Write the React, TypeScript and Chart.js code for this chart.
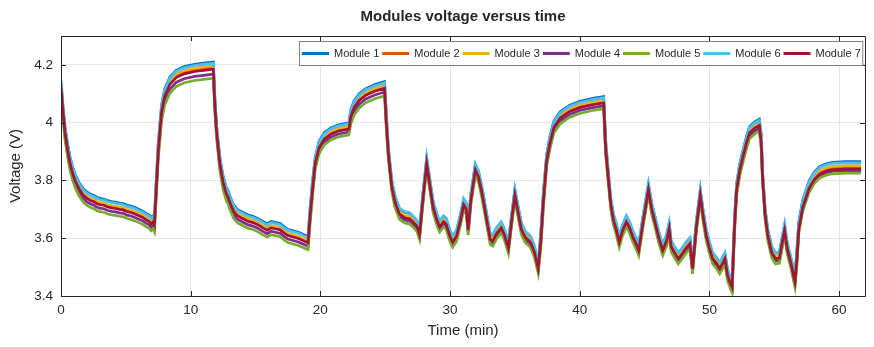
import { useEffect, useRef } from "react";
import { Chart, registerables } from "chart.js";

Chart.register(...registerables);

// Sample times in minutes, shared by every module trace
const TIME_MIN = [
  0, 0.15, 0.3, 0.5, 0.7, 0.9, 1.1, 1.4, 1.7, 2.0,
  2.3, 2.55, 2.75, 3.0, 3.3, 3.6, 3.9, 4.2, 4.5, 4.8,
  5.1, 5.4, 5.7, 6.0, 6.3, 6.55, 6.8, 6.95, 7.1, 7.2,
  7.3, 7.5, 7.75, 8.0, 8.4, 8.9, 9.5, 10.3, 11.0, 11.75,
  11.85, 12.0, 12.25, 12.5, 12.75, 12.9, 13.0, 13.3, 13.6, 14.0,
  14.4, 14.8, 15.2, 15.6, 15.9, 16.2, 16.6, 16.9, 17.2, 17.5,
  17.9, 18.3, 18.7, 19.05, 19.2, 19.4, 19.6, 19.9, 20.3, 20.8,
  21.4, 22.0, 22.2, 22.35, 22.6, 23.0, 23.5, 24.2, 24.95, 25.1,
  25.25, 25.5, 25.75, 26.1, 26.5, 26.9, 27.2, 27.45, 27.65, 27.9,
  28.2, 28.45, 28.7, 29.0, 29.2, 29.5, 29.7, 30.0, 30.2, 30.5,
  30.8, 31.05, 31.25, 31.4, 31.6, 31.95, 32.2, 32.5, 32.8, 33.1,
  33.3, 33.6, 33.95, 34.2, 34.5, 34.75, 35.0, 35.2, 35.5, 35.8,
  36.2, 36.5, 36.8, 37.0, 37.2, 37.45, 37.7, 38.0, 38.5, 39.2,
  40.0, 41.0, 41.85, 42.0, 42.2, 42.4, 42.6, 42.8, 43.05, 43.3,
  43.6, 43.85, 44.1, 44.35, 44.55, 44.9, 45.3, 45.55, 45.8, 46.1,
  46.4, 46.7, 46.9, 47.05, 47.3, 47.6, 47.9, 48.2, 48.5, 48.7,
  49.0, 49.3, 49.5, 49.75, 50.0, 50.25, 50.5, 50.8, 51.0, 51.2,
  51.4, 51.6, 51.75, 51.95, 52.1, 52.35, 52.6, 52.85, 53.1, 53.5,
  53.85, 54.0, 54.1, 54.3, 54.5, 54.8, 55.1, 55.4, 55.6, 55.8,
  56.0, 56.3, 56.6, 56.75, 56.9, 57.2, 57.7, 58.1, 58.5, 59.0,
  59.5, 60.5, 61.7,
];

// Module voltages (V) at each sample time
const MODULE_1 = [
  4.145, 4.060, 3.990, 3.930, 3.880, 3.846, 3.820, 3.792, 3.772, 3.760,
  3.752, 3.748, 3.742, 3.738, 3.736, 3.730, 3.727, 3.725, 3.722, 3.720,
  3.714, 3.711, 3.706, 3.700, 3.694, 3.686, 3.680, 3.672, 3.678, 3.668,
  3.760, 3.930, 4.060, 4.118, 4.158, 4.182, 4.194, 4.202, 4.206, 4.210,
  4.100, 3.990, 3.880, 3.815, 3.775, 3.764, 3.748, 3.716, 3.700, 3.690,
  3.681, 3.676, 3.668, 3.657, 3.650, 3.658, 3.654, 3.651, 3.640, 3.631,
  3.626, 3.621, 3.613, 3.606, 3.700, 3.800, 3.880, 3.935, 3.965, 3.982,
  3.993, 3.998, 4.000, 4.045, 4.075, 4.100, 4.118, 4.132, 4.142, 4.020,
  3.910, 3.800, 3.745, 3.702, 3.690, 3.686, 3.673, 3.660, 3.632, 3.750,
  3.877, 3.800, 3.725, 3.680, 3.658, 3.676, 3.668, 3.625, 3.606, 3.626,
  3.680, 3.735, 3.720, 3.648, 3.750, 3.855, 3.830, 3.767, 3.690, 3.615,
  3.610, 3.636, 3.655, 3.630, 3.585, 3.680, 3.768, 3.720, 3.650, 3.622,
  3.606, 3.572, 3.515, 3.620, 3.760, 3.890, 3.950, 4.005, 4.038, 4.060,
  4.074, 4.084, 4.090, 3.940, 3.830, 3.735, 3.682, 3.652, 3.606, 3.645,
  3.676, 3.655, 3.623, 3.600, 3.577, 3.680, 3.787, 3.720, 3.675, 3.620,
  3.577, 3.610, 3.652, 3.590, 3.570, 3.548, 3.565, 3.585, 3.600, 3.514,
  3.660, 3.767, 3.700, 3.630, 3.585, 3.548, 3.535, 3.514, 3.530, 3.548,
  3.490, 3.465, 3.450, 3.680, 3.790, 3.860, 3.906, 3.950, 3.987, 4.003,
  4.012, 3.960, 3.830, 3.700, 3.630, 3.570, 3.548, 3.550, 3.600, 3.646,
  3.583, 3.530, 3.468, 3.560, 3.660, 3.733, 3.800, 3.830, 3.848, 3.858,
  3.863, 3.865, 3.865,
];

const MODULE_2 = [
  4.128, 4.044, 3.972, 3.912, 3.862, 3.828, 3.802, 3.774, 3.754, 3.742,
  3.734, 3.730, 3.724, 3.720, 3.718, 3.712, 3.709, 3.707, 3.704, 3.702,
  3.696, 3.693, 3.688, 3.682, 3.676, 3.668, 3.662, 3.654, 3.660, 3.650,
  3.738, 3.908, 4.041, 4.099, 4.139, 4.163, 4.175, 4.183, 4.187, 4.191,
  4.078, 3.972, 3.862, 3.797, 3.757, 3.746, 3.730, 3.698, 3.682, 3.672,
  3.663, 3.658, 3.650, 3.639, 3.632, 3.640, 3.636, 3.633, 3.622, 3.613,
  3.608, 3.603, 3.595, 3.588, 3.678, 3.778, 3.863, 3.918, 3.948, 3.965,
  3.976, 3.981, 3.983, 4.027, 4.057, 4.082, 4.100, 4.114, 4.124, 3.998,
  3.895, 3.785, 3.730, 3.687, 3.675, 3.671, 3.658, 3.645, 3.617, 3.735,
  3.862, 3.785, 3.710, 3.665, 3.643, 3.661, 3.653, 3.610, 3.591, 3.611,
  3.665, 3.720, 3.705, 3.633, 3.735, 3.840, 3.815, 3.752, 3.675, 3.600,
  3.595, 3.621, 3.640, 3.615, 3.570, 3.665, 3.753, 3.705, 3.635, 3.607,
  3.591, 3.557, 3.500, 3.598, 3.738, 3.873, 3.933, 3.988, 4.021, 4.043,
  4.057, 4.067, 4.073, 3.918, 3.815, 3.720, 3.667, 3.637, 3.591, 3.630,
  3.661, 3.640, 3.608, 3.585, 3.562, 3.665, 3.772, 3.705, 3.660, 3.605,
  3.562, 3.595, 3.637, 3.575, 3.555, 3.533, 3.550, 3.570, 3.585, 3.499,
  3.645, 3.752, 3.685, 3.615, 3.570, 3.533, 3.520, 3.499, 3.515, 3.533,
  3.475, 3.450, 3.435, 3.658, 3.773, 3.843, 3.889, 3.933, 3.970, 3.986,
  3.995, 3.938, 3.815, 3.685, 3.615, 3.555, 3.533, 3.535, 3.585, 3.631,
  3.568, 3.515, 3.453, 3.538, 3.640, 3.713, 3.780, 3.810, 3.828, 3.838,
  3.843, 3.845, 3.845,
];

const MODULE_3 = [
  4.132, 4.048, 3.976, 3.916, 3.866, 3.832, 3.806, 3.778, 3.758, 3.746,
  3.738, 3.734, 3.728, 3.724, 3.722, 3.716, 3.713, 3.711, 3.708, 3.706,
  3.700, 3.697, 3.692, 3.686, 3.680, 3.672, 3.666, 3.658, 3.664, 3.654,
  3.744, 3.914, 4.047, 4.105, 4.145, 4.169, 4.181, 4.189, 4.193, 4.197,
  4.084, 3.976, 3.866, 3.801, 3.761, 3.750, 3.734, 3.702, 3.686, 3.676,
  3.667, 3.662, 3.654, 3.643, 3.636, 3.644, 3.640, 3.637, 3.626, 3.617,
  3.612, 3.607, 3.599, 3.592, 3.684, 3.784, 3.868, 3.923, 3.953, 3.970,
  3.981, 3.986, 3.988, 4.032, 4.062, 4.087, 4.105, 4.119, 4.129, 4.004,
  3.899, 3.789, 3.734, 3.691, 3.679, 3.675, 3.662, 3.649, 3.621, 3.739,
  3.866, 3.789, 3.714, 3.669, 3.647, 3.665, 3.657, 3.614, 3.595, 3.615,
  3.669, 3.724, 3.709, 3.637, 3.739, 3.844, 3.819, 3.756, 3.679, 3.604,
  3.599, 3.625, 3.644, 3.619, 3.574, 3.669, 3.757, 3.709, 3.639, 3.611,
  3.595, 3.561, 3.504, 3.604, 3.744, 3.878, 3.938, 3.993, 4.026, 4.048,
  4.062, 4.072, 4.078, 3.924, 3.819, 3.724, 3.671, 3.641, 3.595, 3.634,
  3.665, 3.644, 3.612, 3.589, 3.566, 3.669, 3.776, 3.709, 3.664, 3.609,
  3.566, 3.599, 3.641, 3.579, 3.559, 3.537, 3.554, 3.574, 3.589, 3.503,
  3.649, 3.756, 3.689, 3.619, 3.574, 3.537, 3.524, 3.503, 3.519, 3.537,
  3.479, 3.454, 3.439, 3.664, 3.778, 3.848, 3.894, 3.938, 3.975, 3.991,
  4.000, 3.944, 3.819, 3.689, 3.619, 3.559, 3.537, 3.539, 3.589, 3.635,
  3.572, 3.519, 3.457, 3.544, 3.646, 3.719, 3.786, 3.816, 3.834, 3.844,
  3.849, 3.851, 3.851,
];

const MODULE_4 = [
  4.115, 4.030, 3.956, 3.896, 3.846, 3.812, 3.786, 3.758, 3.738, 3.726,
  3.718, 3.714, 3.708, 3.704, 3.702, 3.696, 3.693, 3.691, 3.688, 3.686,
  3.680, 3.677, 3.672, 3.666, 3.660, 3.652, 3.646, 3.638, 3.644, 3.634,
  3.720, 3.890, 4.018, 4.076, 4.116, 4.140, 4.152, 4.160, 4.164, 4.168,
  4.060, 3.956, 3.846, 3.781, 3.741, 3.730, 3.714, 3.682, 3.666, 3.656,
  3.647, 3.642, 3.634, 3.623, 3.616, 3.624, 3.620, 3.617, 3.606, 3.597,
  3.592, 3.587, 3.579, 3.572, 3.660, 3.760, 3.848, 3.903, 3.933, 3.950,
  3.961, 3.966, 3.968, 4.009, 4.039, 4.064, 4.082, 4.096, 4.106, 3.980,
  3.883, 3.773, 3.718, 3.675, 3.663, 3.659, 3.646, 3.633, 3.605, 3.723,
  3.850, 3.773, 3.698, 3.653, 3.631, 3.649, 3.641, 3.598, 3.579, 3.599,
  3.653, 3.708, 3.693, 3.621, 3.723, 3.828, 3.803, 3.740, 3.663, 3.588,
  3.583, 3.609, 3.628, 3.603, 3.558, 3.653, 3.741, 3.693, 3.623, 3.595,
  3.579, 3.545, 3.488, 3.580, 3.720, 3.858, 3.918, 3.973, 4.006, 4.028,
  4.042, 4.052, 4.058, 3.900, 3.803, 3.708, 3.655, 3.625, 3.579, 3.618,
  3.649, 3.628, 3.596, 3.573, 3.550, 3.653, 3.760, 3.693, 3.648, 3.593,
  3.550, 3.583, 3.625, 3.563, 3.543, 3.521, 3.538, 3.558, 3.573, 3.487,
  3.633, 3.740, 3.673, 3.603, 3.558, 3.521, 3.508, 3.487, 3.503, 3.521,
  3.463, 3.438, 3.423, 3.640, 3.758, 3.828, 3.874, 3.918, 3.955, 3.971,
  3.980, 3.920, 3.803, 3.673, 3.603, 3.543, 3.521, 3.523, 3.573, 3.619,
  3.556, 3.503, 3.441, 3.520, 3.629, 3.702, 3.769, 3.799, 3.817, 3.827,
  3.832, 3.834, 3.834,
];

const MODULE_5 = [
  4.105, 4.020, 3.944, 3.884, 3.834, 3.800, 3.774, 3.746, 3.726, 3.714,
  3.706, 3.702, 3.696, 3.692, 3.690, 3.684, 3.681, 3.679, 3.676, 3.674,
  3.668, 3.665, 3.660, 3.654, 3.648, 3.640, 3.634, 3.626, 3.632, 3.622,
  3.706, 3.876, 4.004, 4.062, 4.102, 4.126, 4.138, 4.146, 4.150, 4.154,
  4.046, 3.944, 3.834, 3.769, 3.729, 3.718, 3.702, 3.670, 3.654, 3.644,
  3.635, 3.630, 3.622, 3.611, 3.604, 3.612, 3.608, 3.605, 3.594, 3.585,
  3.580, 3.575, 3.567, 3.560, 3.646, 3.746, 3.838, 3.893, 3.923, 3.940,
  3.951, 3.956, 3.958, 3.996, 4.026, 4.051, 4.069, 4.083, 4.093, 3.966,
  3.873, 3.763, 3.708, 3.665, 3.653, 3.649, 3.636, 3.623, 3.595, 3.713,
  3.840, 3.763, 3.688, 3.643, 3.621, 3.639, 3.631, 3.588, 3.569, 3.589,
  3.643, 3.698, 3.683, 3.611, 3.713, 3.818, 3.793, 3.730, 3.653, 3.578,
  3.573, 3.599, 3.618, 3.593, 3.548, 3.643, 3.731, 3.683, 3.613, 3.585,
  3.569, 3.535, 3.478, 3.566, 3.706, 3.848, 3.908, 3.963, 3.996, 4.018,
  4.032, 4.042, 4.048, 3.886, 3.793, 3.698, 3.645, 3.615, 3.569, 3.608,
  3.639, 3.618, 3.586, 3.563, 3.540, 3.643, 3.750, 3.683, 3.638, 3.583,
  3.540, 3.573, 3.615, 3.553, 3.533, 3.511, 3.528, 3.548, 3.563, 3.477,
  3.623, 3.730, 3.663, 3.593, 3.548, 3.511, 3.498, 3.477, 3.493, 3.511,
  3.453, 3.428, 3.413, 3.626, 3.748, 3.818, 3.864, 3.908, 3.945, 3.961,
  3.970, 3.906, 3.793, 3.663, 3.593, 3.533, 3.511, 3.513, 3.563, 3.609,
  3.546, 3.493, 3.431, 3.506, 3.620, 3.693, 3.760, 3.790, 3.808, 3.818,
  3.823, 3.825, 3.825,
];

const MODULE_6 = [
  4.140, 4.056, 3.986, 3.926, 3.876, 3.842, 3.816, 3.788, 3.768, 3.756,
  3.748, 3.744, 3.738, 3.734, 3.732, 3.726, 3.723, 3.721, 3.718, 3.716,
  3.710, 3.707, 3.702, 3.696, 3.690, 3.682, 3.676, 3.668, 3.674, 3.664,
  3.756, 3.926, 4.056, 4.114, 4.154, 4.178, 4.190, 4.198, 4.202, 4.206,
  4.096, 3.986, 3.876, 3.811, 3.771, 3.760, 3.744, 3.712, 3.696, 3.686,
  3.677, 3.672, 3.664, 3.653, 3.646, 3.654, 3.650, 3.647, 3.636, 3.627,
  3.622, 3.617, 3.609, 3.602, 3.696, 3.796, 3.876, 3.931, 3.961, 3.978,
  3.989, 3.994, 3.996, 4.041, 4.071, 4.096, 4.114, 4.128, 4.138, 4.016,
  3.912, 3.802, 3.747, 3.704, 3.692, 3.688, 3.675, 3.662, 3.634, 3.752,
  3.879, 3.802, 3.727, 3.682, 3.660, 3.678, 3.670, 3.627, 3.608, 3.628,
  3.682, 3.737, 3.722, 3.650, 3.752, 3.857, 3.832, 3.769, 3.692, 3.617,
  3.612, 3.638, 3.657, 3.632, 3.587, 3.682, 3.770, 3.722, 3.652, 3.624,
  3.608, 3.574, 3.517, 3.616, 3.756, 3.886, 3.946, 4.001, 4.034, 4.056,
  4.070, 4.080, 4.086, 3.936, 3.832, 3.737, 3.684, 3.654, 3.608, 3.647,
  3.678, 3.657, 3.625, 3.602, 3.579, 3.682, 3.789, 3.722, 3.677, 3.622,
  3.579, 3.612, 3.654, 3.592, 3.572, 3.550, 3.567, 3.587, 3.602, 3.516,
  3.662, 3.769, 3.702, 3.632, 3.587, 3.550, 3.537, 3.516, 3.532, 3.550,
  3.492, 3.467, 3.452, 3.676, 3.786, 3.856, 3.902, 3.946, 3.983, 3.999,
  4.008, 3.956, 3.832, 3.702, 3.632, 3.572, 3.550, 3.552, 3.602, 3.648,
  3.585, 3.532, 3.470, 3.556, 3.656, 3.729, 3.796, 3.826, 3.844, 3.854,
  3.859, 3.861, 3.861,
];

const MODULE_7 = [
  4.122, 4.040, 3.968, 3.908, 3.858, 3.824, 3.798, 3.770, 3.750, 3.738,
  3.730, 3.726, 3.720, 3.716, 3.714, 3.708, 3.705, 3.703, 3.700, 3.698,
  3.692, 3.689, 3.684, 3.678, 3.672, 3.664, 3.658, 3.650, 3.656, 3.646,
  3.732, 3.902, 4.035, 4.093, 4.133, 4.157, 4.169, 4.177, 4.181, 4.185,
  4.072, 3.968, 3.858, 3.793, 3.753, 3.742, 3.726, 3.694, 3.678, 3.668,
  3.659, 3.654, 3.646, 3.635, 3.628, 3.636, 3.632, 3.629, 3.618, 3.609,
  3.604, 3.599, 3.591, 3.584, 3.672, 3.772, 3.858, 3.913, 3.943, 3.960,
  3.971, 3.976, 3.978, 4.022, 4.052, 4.077, 4.095, 4.109, 4.119, 3.992,
  3.891, 3.781, 3.726, 3.683, 3.671, 3.667, 3.654, 3.641, 3.613, 3.731,
  3.858, 3.781, 3.706, 3.661, 3.639, 3.657, 3.649, 3.606, 3.587, 3.607,
  3.661, 3.716, 3.701, 3.629, 3.731, 3.836, 3.811, 3.748, 3.671, 3.596,
  3.591, 3.617, 3.636, 3.611, 3.566, 3.661, 3.749, 3.701, 3.631, 3.603,
  3.587, 3.553, 3.496, 3.592, 3.732, 3.868, 3.928, 3.983, 4.016, 4.038,
  4.052, 4.062, 4.068, 3.912, 3.811, 3.716, 3.663, 3.633, 3.587, 3.626,
  3.657, 3.636, 3.604, 3.581, 3.558, 3.661, 3.768, 3.701, 3.656, 3.601,
  3.558, 3.591, 3.633, 3.571, 3.551, 3.529, 3.546, 3.566, 3.581, 3.495,
  3.641, 3.748, 3.681, 3.611, 3.566, 3.529, 3.516, 3.495, 3.511, 3.529,
  3.471, 3.446, 3.431, 3.652, 3.768, 3.838, 3.884, 3.928, 3.965, 3.981,
  3.990, 3.932, 3.811, 3.681, 3.611, 3.551, 3.529, 3.531, 3.581, 3.627,
  3.564, 3.511, 3.449, 3.532, 3.634, 3.707, 3.774, 3.804, 3.822, 3.832,
  3.837, 3.839, 3.839,
];

const MODULE_SERIES = [MODULE_1, MODULE_2, MODULE_3, MODULE_4, MODULE_5, MODULE_6, MODULE_7];
const MODULE_NAMES = ["Module 1", "Module 2", "Module 3", "Module 4", "Module 5", "Module 6", "Module 7"];
const MODULE_COLORS = ["#0072BD", "#D95319", "#EDB120", "#7E2F8E", "#77AC30", "#4DBEEE", "#A2142F"];

const X_TICKS = [0, 10, 20, 30, 40, 50, 60];
const Y_TICKS = [3.4, 3.6, 3.8, 4.0, 4.2];

const TITLE_TEXT = "Modules voltage versus time";
const X_TITLE = "Time (min)";
const Y_TITLE = "Voltage (V)";

const FONT = "'Liberation Sans', Arial, Helvetica, sans-serif";
const INK = "#262626";

// Axes box with inward ticks, titles and an in-plot legend row
const framePlugin = {
  id: "frame",
  afterDatasetsDraw(chart: any) {
    const { ctx, chartArea: a, scales } = chart;
    const xs = scales.x;
    const ys = scales.y;
    ctx.save();
    ctx.strokeStyle = INK;
    ctx.lineWidth = 1;
    ctx.beginPath();
    ctx.rect(Math.round(a.left) + 0.5, Math.round(a.top) + 0.5,
      Math.round(a.right - a.left), Math.round(a.bottom - a.top));
    ctx.stroke();
    const tl = 5;
    ctx.beginPath();
    for (const v of X_TICKS) {
      const px = Math.round(xs.getPixelForValue(v)) + 0.5;
      ctx.moveTo(px, a.bottom);
      ctx.lineTo(px, a.bottom - tl);
      ctx.moveTo(px, a.top);
      ctx.lineTo(px, a.top + tl);
    }
    for (const v of Y_TICKS) {
      const py = Math.round(ys.getPixelForValue(v)) + 0.5;
      ctx.moveTo(a.left, py);
      ctx.lineTo(a.left + tl, py);
      ctx.moveTo(a.right, py);
      ctx.lineTo(a.right - tl, py);
    }
    ctx.stroke();
    ctx.restore();
  },
  afterDraw(chart: any) {
    const { ctx, chartArea: a } = chart;
    ctx.save();
    ctx.fillStyle = INK;
    ctx.textAlign = "center";
    ctx.textBaseline = "middle";
    ctx.font = `bold 15px ${FONT}`;
    ctx.fillText(TITLE_TEXT, (a.left + a.right) / 2, 17);
    ctx.font = `15px ${FONT}`;
    ctx.fillText(X_TITLE, (a.left + a.right) / 2, 331);
    ctx.save();
    ctx.translate(16, (a.top + a.bottom) / 2);
    ctx.rotate(-Math.PI / 2);
    ctx.fillText(Y_TITLE, 0, 0);
    ctx.restore();

    // legend
    ctx.font = `11px ${FONT}`;
    const lineLen = 27;
    const gapText = 5;
    const gapEntry = 3;
    const boxLeft = 299;
    const boxTop = 41;
    const boxH = 24;
    let x = boxLeft + 3;
    const entries: { x: number; w: number }[] = [];
    for (const name of MODULE_NAMES) {
      const w = ctx.measureText(name).width;
      entries.push({ x, w });
      x += lineLen + gapText + w + gapEntry;
    }
    const boxRight = Math.min(x - gapEntry + 1.5, a.right - 2);
    ctx.fillStyle = "#ffffff";
    ctx.fillRect(boxLeft, boxTop, boxRight - boxLeft, boxH);
    ctx.strokeStyle = "#808080";
    ctx.lineWidth = 1;
    ctx.strokeRect(boxLeft + 0.5, boxTop + 0.5, boxRight - boxLeft, boxH);
    const cy = boxTop + boxH / 2 + 0.5;
    MODULE_NAMES.forEach((name, i) => {
      const e = entries[i];
      ctx.strokeStyle = MODULE_COLORS[i];
      ctx.lineWidth = 3;
      ctx.beginPath();
      ctx.moveTo(e.x, cy);
      ctx.lineTo(e.x + lineLen, cy);
      ctx.stroke();
      ctx.fillStyle = INK;
      ctx.textAlign = "left";
      ctx.fillText(name, e.x + lineLen + gapText, cy);
    });
    ctx.restore();
  },
};

export default function App() {
  const canvasRef = useRef<HTMLCanvasElement | null>(null);

  useEffect(() => {
    document.body.style.margin = "0";
    const canvas = canvasRef.current;
    if (!canvas) return;
    const datasets = MODULE_SERIES.map((vals, i) => ({
      label: MODULE_NAMES[i],
      data: TIME_MIN.map((t, k) => ({ x: t, y: vals[k] })),
      borderColor: MODULE_COLORS[i],
      backgroundColor: MODULE_COLORS[i],
      borderWidth: 2.7,
      pointRadius: 0,
      fill: false,
      tension: 0,
      order: MODULE_SERIES.length - i,
    }));
    const chart = new Chart(canvas, {
      type: "line",
      data: { datasets },
      plugins: [framePlugin],
      options: {
        animation: false,
        responsive: false,
        maintainAspectRatio: false,
        devicePixelRatio: 1,
        layout: { padding: { top: 36, right: 9, left: 0, bottom: 0 } },
        plugins: {
          legend: { display: false },
          tooltip: { enabled: false },
          title: { display: false },
        },
        scales: {
          x: {
            type: "linear",
            min: 0,
            max: 62,
            afterBuildTicks: (scale: any) => {
              scale.ticks = X_TICKS.map((v) => ({ value: v }));
            },
            afterFit: (scale: any) => {
              scale.height = 51;
            },
            ticks: {
              padding: 6,
              color: INK,
              font: { family: FONT, size: 13.5 },
              maxRotation: 0,
              callback: (v: any) => String(v),
            },
            grid: { color: "#e6e6e6", lineWidth: 1, drawTicks: false },
            border: { display: false },
          },
          y: {
            type: "linear",
            min: 3.4,
            max: 4.3,
            afterBuildTicks: (scale: any) => {
              scale.ticks = Y_TICKS.map((v) => ({ value: v }));
            },
            afterFit: (scale: any) => {
              scale.width = 61;
            },
            ticks: {
              padding: 8,
              color: INK,
              font: { family: FONT, size: 13.5 },
              callback: (v: any) => String(Math.round(Number(v) * 10) / 10),
            },
            grid: { color: "#e6e6e6", lineWidth: 1, drawTicks: false },
            border: { display: false },
          },
        },
      },
    });
    return () => chart.destroy();
  }, []);

  return (
    <div style={{ width: 874, height: 347, background: "#ffffff" }}>
      <canvas ref={canvasRef} width={874} height={347} />
    </div>
  );
}
